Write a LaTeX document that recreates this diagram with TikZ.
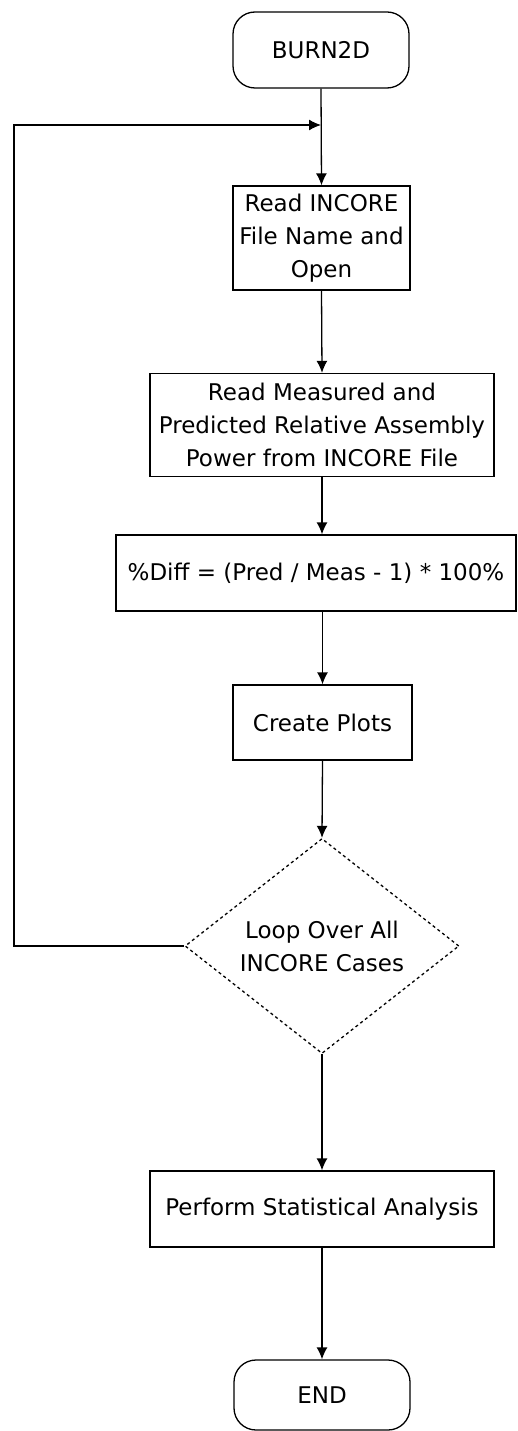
\documentclass[tikz,border=0pt]{standalone}
\usepackage{fontspec}
\setmainfont{DejaVu Sans}
\usetikzlibrary{shapes.geometric,arrows.meta}
\begin{document}
\begin{tikzpicture}[x=1pt,y=-1pt,
  txt/.style={font=\fontsize{23}{33}\selectfont, align=center},
  term/.style={txt, draw, rounded corners=22pt, minimum width=176pt, inner sep=0pt, line width=1.3pt},
  proc/.style={txt, draw, inner sep=0pt, line width=1.3pt},
  dec/.style={txt, draw, diamond, dashed, inner sep=0pt, line width=1.3pt, minimum width=274pt, minimum height=208pt},
  flow/.style={line width=1.3pt, -{Latex[length=12pt,width=11pt]}}
]
\useasboundingbox (0,0) rectangle (518,1431);
\node[term, minimum height=76pt] (burn) at (321,50) {BURN2D};
\node[proc, minimum width=177pt, minimum height=104pt] (rin) at (321.5,238) {Read INCORE\\File Name and\\Open};
\node[proc, minimum width=344pt, minimum height=103pt] (rmeas) at (322,425) {Read Measured and\\Predicted Relative Assembly\\Power from INCORE File};
\node[proc, minimum width=400pt, minimum height=76pt] (diff) at (316,573) {\%Diff = (Pred / Meas - 1) * 100\%};
\node[proc, minimum width=179pt, minimum height=75pt] (plots) at (322.5,722.5) {Create Plots};
\node[dec] (loop) at (322,946) {Loop Over All\\INCORE Cases};
\node[proc, minimum width=344pt, minimum height=76pt] (stat) at (322,1209) {Perform Statistical Analysis};
\node[term, minimum height=70pt] (endn) at (322,1395) {END};
\coordinate (join) at (321,125);
\coordinate (lb) at (14,946);
\coordinate (lt) at (14,125);
\draw[flow] (burn.south) -- (rin.north);
\draw[flow] (loop.west) -- (lb) -- (lt) -- (join);
\draw[flow] (rin.south) -- (rmeas.north);
\draw[flow] (rmeas.south) -- (diff.north -| rmeas.south);
\draw[flow] (diff.south -| plots.north) -- (plots.north);
\draw[flow] (plots.south) -- (loop.north);
\draw[flow] (loop.south) -- (stat.north);
\draw[flow] (stat.south) -- (endn.north);
\end{tikzpicture}
\end{document}
